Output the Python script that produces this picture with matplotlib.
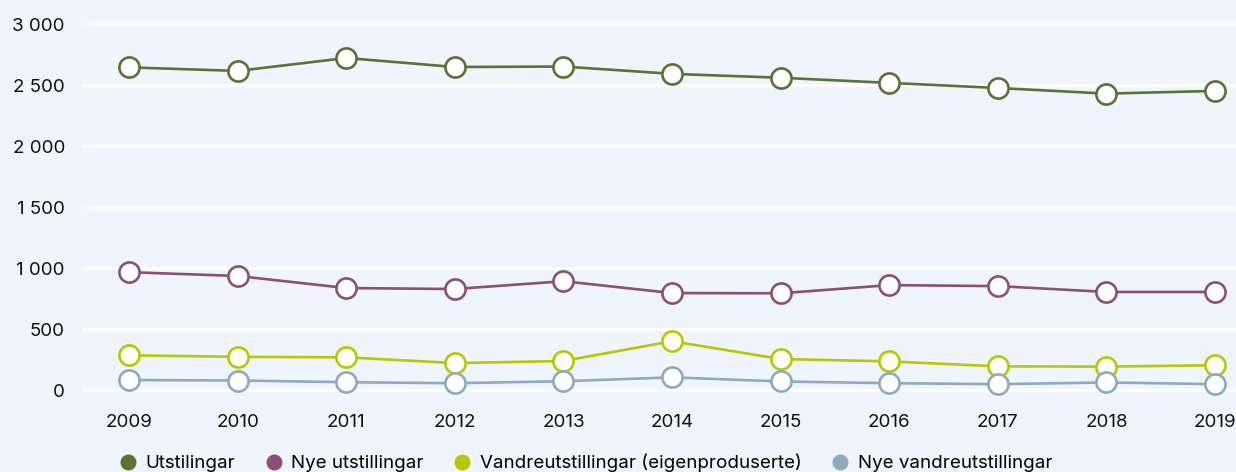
import matplotlib
matplotlib.use("Agg")
import matplotlib.pyplot as plt
from matplotlib.lines import Line2D

years = [2009, 2010, 2011, 2012, 2013, 2014, 2015, 2016, 2017, 2018, 2019]
utstilingar = [2645, 2616, 2722, 2648, 2652, 2592, 2560, 2518, 2476, 2430, 2452]
nye_utstillingar = [966, 935, 836, 828, 892, 795, 793, 860, 852, 804, 804]
vandre = [285, 272, 268, 221, 238, 400, 254, 235, 194, 192, 203]
nye_vandre = [82, 78, 64, 56, 72, 104, 70, 56, 48, 62, 48]

series_names = ["Utstilingar", "Nye utstillingar", "Vandreutstillingar (eigenproduserte)", "Nye vandreutstillingar"]
colors = ["#5b7235", "#8c4f79", "#b7c800", "#8eaabc"]
yticks = [0, 500, 1000, 1500, 2000, 2500, 3000]
ytick_labels = ["0", "500", "1 000", "1 500", "2 000", "2 500", "3 000"]

plt.rcParams['font.family'] = ['Inter', 'DejaVu Sans']
bg = "#eef5fc"
fig = plt.figure(figsize=(12.36, 4.72), dpi=100, facecolor=bg)
ax = fig.add_axes([83/1236, 0.153, 1 - 83/1236, 0.827])
ax.set_facecolor(bg)

for vals, c in zip([utstilingar, nye_utstillingar, vandre, nye_vandre], colors):
    ax.plot(years, vals, color=c, lw=1.9, marker='o', markersize=14.5,
            markerfacecolor='white', markeredgecolor=c, markeredgewidth=1.9, zorder=3, clip_on=False)

ax.set_xlim(2008.576, 2019.193)
ax.set_ylim(-80, 3120)
ax.set_yticks(yticks)
ax.set_yticklabels(ytick_labels)
ax.set_xticks(years)
ax.set_xticklabels([str(y) for y in years])
ax.grid(axis='y', color='white', lw=2.2)
ax.set_axisbelow(True)
for s in ax.spines.values():
    s.set_visible(False)
ax.tick_params(axis='both', length=0, labelsize=13.5, colors='#111111')
ax.tick_params(axis='y', pad=13)
ax.tick_params(axis='x', pad=10)

handles = [Line2D([], [], ls='none', marker='o', markersize=10.5, markerfacecolor=c, markeredgecolor=c) for c in colors]
fig.legend(handles, series_names, loc='lower left', bbox_to_anchor=(107/1236, -0.02), ncol=4,
           frameon=False, fontsize=13.5, handletextpad=0.35, columnspacing=1.45, borderpad=0, handlelength=1.2)

fig.savefig("out.png", dpi=100, facecolor=bg)
